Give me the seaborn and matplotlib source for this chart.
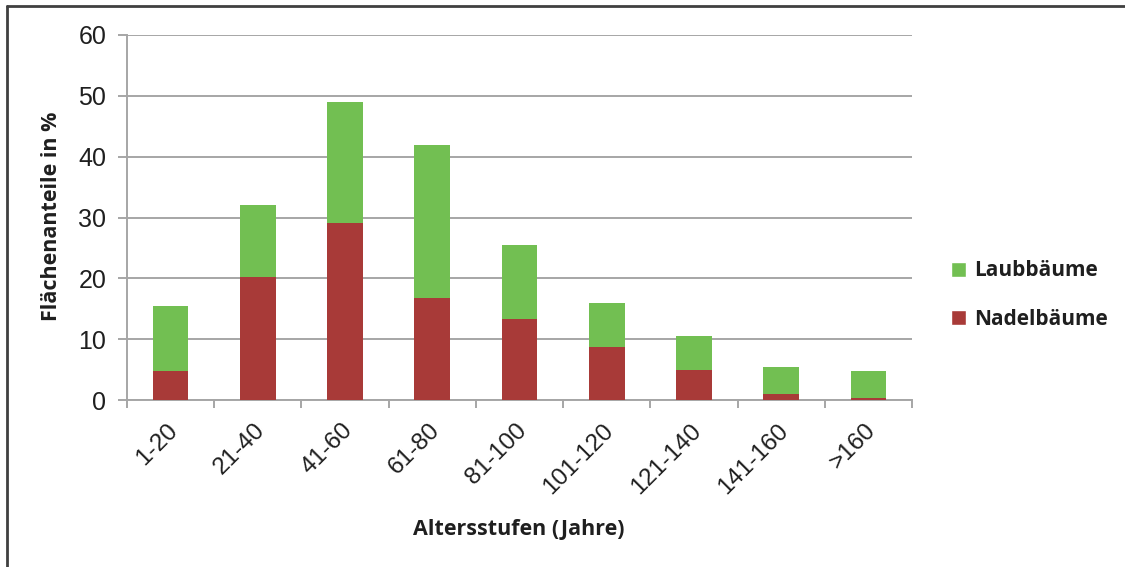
import numpy as np
import pandas as pd
import matplotlib
matplotlib.use("Agg")
import matplotlib.pyplot as plt
import matplotlib.transforms as mtrans
import seaborn as sns
from matplotlib.patches import Patch
from matplotlib.lines import Line2D
from matplotlib.ticker import FixedLocator, NullFormatter

# ---- Daten ----
altersstufen = ["1-20", "21-40", "41-60", "61-80", "81-100",
                "101-120", "121-140", "141-160", ">160"]
nadelbaeume = [4.7, 20.2, 29.1, 16.7, 13.3, 8.7, 5.0, 1.0, 0.3]
laubbaeume = [10.7, 11.8, 19.9, 25.2, 12.2, 7.2, 5.6, 4.4, 4.4]

gruen = "#72BF52"
rot = "#A83A38"
grau = "#A6A6A6"
text_col = "#1F1F1F"

df = pd.DataFrame({"stufe": altersstufen,
                   "nadel": nadelbaeume,
                   "laub": laubbaeume})
df["gesamt"] = df["nadel"] + df["laub"]

sns.set_theme(style="white")
plt.rcParams["font.family"] = ["Liberation Sans", "DejaVu Sans"]

fig = plt.figure(figsize=(11.25, 5.67), dpi=100)
ax = fig.add_axes([127 / 1125, 1 - 400 / 567, (912 - 127) / 1125, (400 - 35) / 567])

# gestapelte Balken: Gesamt (gruen) dahinter, Nadel (rot) davor
sns.barplot(data=df, x="stufe", y="gesamt", color=gruen, saturation=1,
            width=0.41, linewidth=0, ax=ax, zorder=3)
sns.barplot(data=df, x="stufe", y="nadel", color=rot, saturation=1,
            width=0.41, linewidth=0, ax=ax, zorder=4)

ax.set_xlim(-0.5, len(altersstufen) - 0.5)
ax.set_ylim(0, 60)
ax.set_yticks(np.arange(0, 61, 10))
ax.yaxis.grid(True, color=grau, linewidth=1.4, zorder=0)
ax.xaxis.grid(False)
ax.set_axisbelow(True)

for s in ["top", "right"]:
    ax.spines[s].set_visible(False)
for s in ["left", "bottom"]:
    ax.spines[s].set_color(grau)
    ax.spines[s].set_linewidth(1.4)

# Tickmarks zwischen den Kategorien (Excel-Stil)
ax.xaxis.set_minor_locator(FixedLocator(np.arange(-0.5, len(altersstufen), 1)))
ax.xaxis.set_minor_formatter(NullFormatter())
ax.tick_params(axis="x", which="major", length=0, pad=14)
ax.tick_params(axis="x", which="minor", length=6, width=1.4, color=grau,
               bottom=True)
ax.tick_params(axis="y", length=6.5, width=1.4, color=grau, left=True,
               pad=8.5, labelsize=18, labelcolor=text_col)

ax.set_xticks(range(len(altersstufen)))
ax.set_xticklabels(altersstufen, rotation=45, ha="right", va="top",
                   rotation_mode="anchor", fontsize=17.5, color=text_col)
offset = mtrans.ScaledTranslation(-4 / 100, 0, fig.dpi_scale_trans)
for lbl in ax.get_xticklabels():
    lbl.set_transform(lbl.get_transform() + offset)

ax.set_xlabel("")
ax.set_ylabel("")

lab_font = dict(family=["Open Sans", "DejaVu Sans"], weight="bold",
                color=text_col)
fig.text(519 / 1125, 1 - 530 / 567, "Altersstufen (Jahre)", ha="center",
         va="center", fontsize=15.5, **lab_font)
fig.text(52 / 1125, 1 - 216 / 567, "Flächenanteile in %", ha="center",
         va="center", rotation=90, fontsize=15.5, **lab_font)

handles = [Patch(facecolor=gruen, label="Laubbäume"),
           Patch(facecolor=rot, label="Nadelbäume")]
leg = fig.legend(handles=handles, loc="center left",
                 bbox_to_anchor=(932 / 1125, 1 - 295 / 567), frameon=False,
                 handlelength=0.72, handleheight=0.72, handletextpad=0.4,
                 labelspacing=1.3,
                 prop=dict(family=["Open Sans", "DejaVu Sans"], weight="bold",
                           size=15))
for t in leg.get_texts():
    t.set_color(text_col)

# Rahmen um das Diagramm (nur links/oben sichtbar)
fig.add_artist(Line2D([7 / 1125, 7 / 1125], [0, 1 - 6 / 567],
                      transform=fig.transFigure, color="#404040", lw=2))
fig.add_artist(Line2D([7 / 1125, 1], [1 - 6 / 567, 1 - 6 / 567],
                      transform=fig.transFigure, color="#404040", lw=2))

fig.savefig("out.png", dpi=100)
